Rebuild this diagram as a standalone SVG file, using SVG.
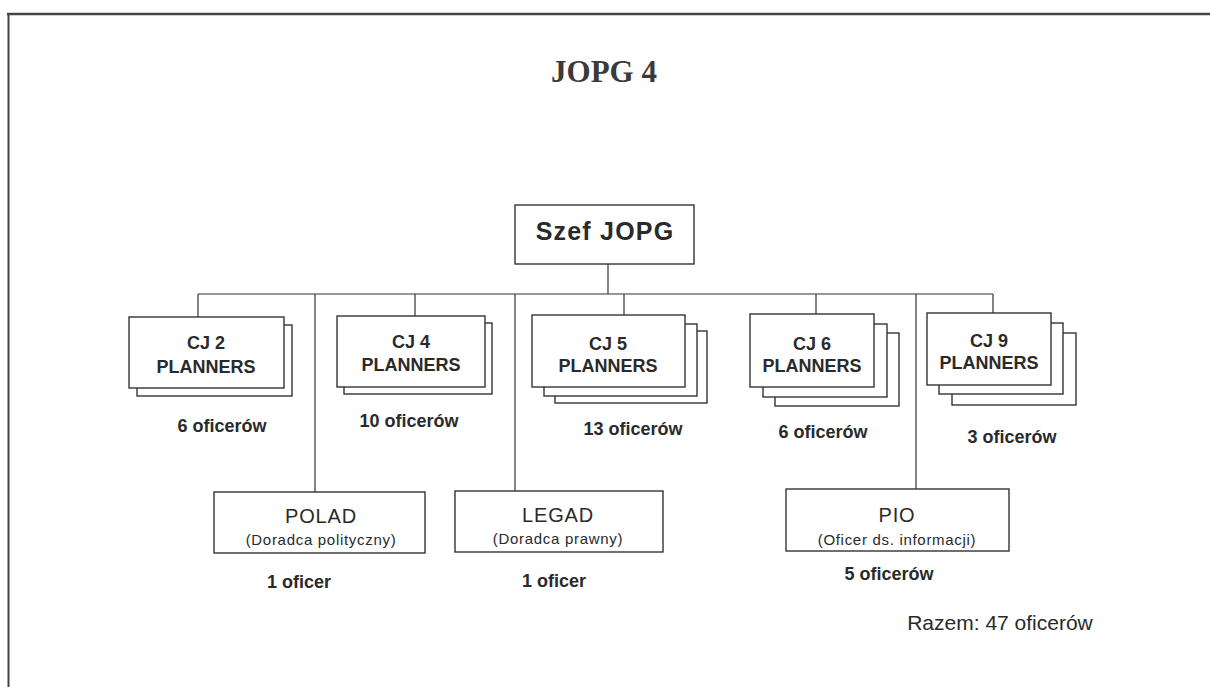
<svg xmlns="http://www.w3.org/2000/svg" width="1210" height="687" viewBox="0 0 1210 687">
<style>
.bg{fill:#fff}
.frame{stroke:#444;fill:none}
.box{fill:#fff;stroke:#333;stroke-width:1.4}
.ln{stroke:#333;stroke-width:1.2;fill:none}
text{font-family:"Liberation Sans",Arial,sans-serif;fill:#2a2a2a;text-anchor:middle}
.title{font-family:"Liberation Serif","Times New Roman",serif;font-weight:bold;font-size:31px;fill:#3a3a3a}
.head{font-weight:bold;font-size:25px;letter-spacing:1.2px}
.cj{font-weight:bold;font-size:18px}
.cnt{font-weight:bold;font-size:18px}
.adv{font-size:20px;letter-spacing:0.8px}
.sub{font-size:15px;letter-spacing:0.7px}
.tot{font-size:21px}
</style>
<rect class="bg" x="0" y="0" width="1210" height="687"/>
<g id="frame">
<line class="frame" x1="7" y1="14" x2="1210" y2="14" stroke-width="2.5"/>
<line class="frame" x1="8.5" y1="14" x2="8.5" y2="687" stroke-width="2"/>
</g>
<text class="title" x="604" y="82">JOPG 4</text>
<g id="connectors">
<line class="ln" x1="608" y1="264" x2="608" y2="294"/>
<line class="ln" x1="198" y1="294" x2="993" y2="294"/>
<line class="ln" x1="198" y1="294" x2="198" y2="317"/>
<line class="ln" x1="315" y1="294" x2="315" y2="492"/>
<line class="ln" x1="415" y1="294" x2="415" y2="316"/>
<line class="ln" x1="515" y1="294" x2="515" y2="491"/>
<line class="ln" x1="624" y1="294" x2="624" y2="315"/>
<line class="ln" x1="816" y1="294" x2="816" y2="314"/>
<line class="ln" x1="916" y1="294" x2="916" y2="489"/>
<line class="ln" x1="993" y1="294" x2="993" y2="313"/>
</g>
<g id="szef">
<rect class="box" x="515" y="205" width="179" height="59"/>
<text class="head" x="605" y="240">Szef JOPG</text>
</g>
<g id="cj2">
<rect class="box" x="137" y="325" width="155" height="71"/>
<rect class="box" x="129" y="317" width="155" height="71"/>
<text class="cj" x="206" y="349">CJ 2</text>
<text class="cj" x="206" y="373">PLANNERS</text>
<text class="cnt" x="222" y="432">6 oficerów</text>
</g>
<g id="cj4">
<rect class="box" x="344" y="323" width="148" height="71"/>
<rect class="box" x="337" y="316" width="148" height="71"/>
<text class="cj" x="411" y="348">CJ 4</text>
<text class="cj" x="411" y="371">PLANNERS</text>
<text class="cnt" x="409" y="427">10 oficerów</text>
</g>
<g id="cj5">
<rect class="box" x="555" y="331" width="152" height="72"/>
<rect class="box" x="544" y="324" width="153" height="72"/>
<rect class="box" x="532" y="315" width="153" height="72"/>
<text class="cj" x="608" y="350">CJ 5</text>
<text class="cj" x="608" y="372">PLANNERS</text>
<text class="cnt" x="633" y="435">13 oficerów</text>
</g>
<g id="cj6">
<rect class="box" x="775" y="333" width="124" height="73"/>
<rect class="box" x="763" y="324" width="124" height="73"/>
<rect class="box" x="750" y="314" width="124" height="73"/>
<text class="cj" x="812" y="350">CJ 6</text>
<text class="cj" x="812" y="372">PLANNERS</text>
<text class="cnt" x="823" y="438">6 oficerów</text>
</g>
<g id="cj9">
<rect class="box" x="952" y="333" width="124" height="72"/>
<rect class="box" x="939" y="323" width="124" height="71"/>
<rect class="box" x="927" y="313" width="124" height="72"/>
<text class="cj" x="989" y="347">CJ 9</text>
<text class="cj" x="989" y="369">PLANNERS</text>
<text class="cnt" x="1012" y="443">3 oficerów</text>
</g>
<g id="polad">
<rect class="box" x="214" y="492" width="211" height="61"/>
<text class="adv" x="321" y="523">POLAD</text>
<text class="sub" x="321" y="545">(Doradca polityczny)</text>
<text class="cnt" x="299" y="588">1 oficer</text>
</g>
<g id="legad">
<rect class="box" x="455" y="491" width="208" height="61"/>
<text class="adv" x="558" y="522">LEGAD</text>
<text class="sub" x="558" y="544">(Doradca prawny)</text>
<text class="cnt" x="554" y="587">1 oficer</text>
</g>
<g id="pio">
<rect class="box" x="786" y="489" width="223" height="62"/>
<text class="adv" x="897" y="522">PIO</text>
<text class="sub" x="897" y="545">(Oficer ds. informacji)</text>
<text class="cnt" x="889" y="580">5 oficerów</text>
</g>
<text class="tot" x="1000" y="630">Razem: 47 oficerów</text>
</svg>
